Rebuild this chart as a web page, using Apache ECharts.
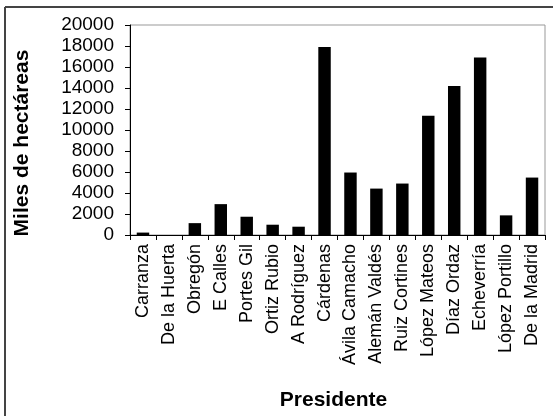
<!DOCTYPE html>
<html>
<head>
<meta charset="utf-8">
<script src="https://cdn.jsdelivr.net/npm/echarts@6/dist/echarts.min.js"></script>
<style>
html,body{margin:0;padding:0;background:#fff;}
#c{width:553px;height:416px;}
</style>
</head>
<body>
<div id="c"></div>
<script>
var categories = ["Carranza","De la Huerta","Obregón","E Calles","Portes Gil","Ortiz Rubio","A Rodríguez","Cárdenas","Ávila Camacho","Alemán Valdés","Ruiz Cortines","López Mateos","Díaz Ordaz","Echeverría","López Portillo","De la Madrid"];
var values = [230, 0, 1130, 2940, 1740, 980, 790, 17900, 5950, 4420, 4900, 11350, 14200, 16900, 1870, 5470];
var yTicks = {min: 0, max: 20000, interval: 2000};

var chart = echarts.init(document.getElementById('c'));
var font = 'Liberation Sans, Arial, sans-serif';
chart.setOption({
  animation: false,
  backgroundColor: '#fff',
  graphic: [
    {type: 'line', shape: {x1: 5, y1: 7, x2: 553, y2: 7}, style: {stroke: '#444', lineWidth: 2}},
    {type: 'line', shape: {x1: 5, y1: 7, x2: 5, y2: 416}, style: {stroke: '#444', lineWidth: 2}}
  ],
  grid: {left: 130, top: 25, right: 8, bottom: 180, show: true, borderColor: '#999', borderWidth: 1},
  xAxis: {
    type: 'category',
    data: categories,
    name: 'Presidente',
    nameLocation: 'middle',
    nameGap: 155,
    nameTextStyle: {fontFamily: font, fontWeight: 'bold', fontSize: 21, color: '#000', padding: [0, 8, 0, 0]},
    axisLine: {lineStyle: {color: '#000', width: 1}},
    axisTick: {show: true, interval: 0, length: 5, lineStyle: {color: '#000'}},
    axisLabel: {interval: 0, rotate: 90, fontFamily: font, fontSize: 18, color: '#000', margin: 9}
  },
  yAxis: {
    type: 'value',
    min: yTicks.min, max: yTicks.max, interval: yTicks.interval,
    name: 'Miles de hectáreas',
    nameLocation: 'middle',
    nameGap: 97,
    nameRotate: 90,
    nameTextStyle: {fontFamily: font, fontWeight: 'bold', fontSize: 21, color: '#000', padding: [0, 26, 0, 0]},
    axisLine: {show: true, lineStyle: {color: '#000', width: 1}},
    axisTick: {show: true, length: 5, lineStyle: {color: '#000'}},
    splitLine: {show: false},
    axisLabel: {fontFamily: font, fontSize: 19, color: '#000', margin: 16, formatter: function (v) { return String(v); }}
  },
  series: [{
    type: 'bar',
    data: values,
    barWidth: '48%',
    itemStyle: {color: '#000'}
  }]
});
</script>
</body>
</html>
